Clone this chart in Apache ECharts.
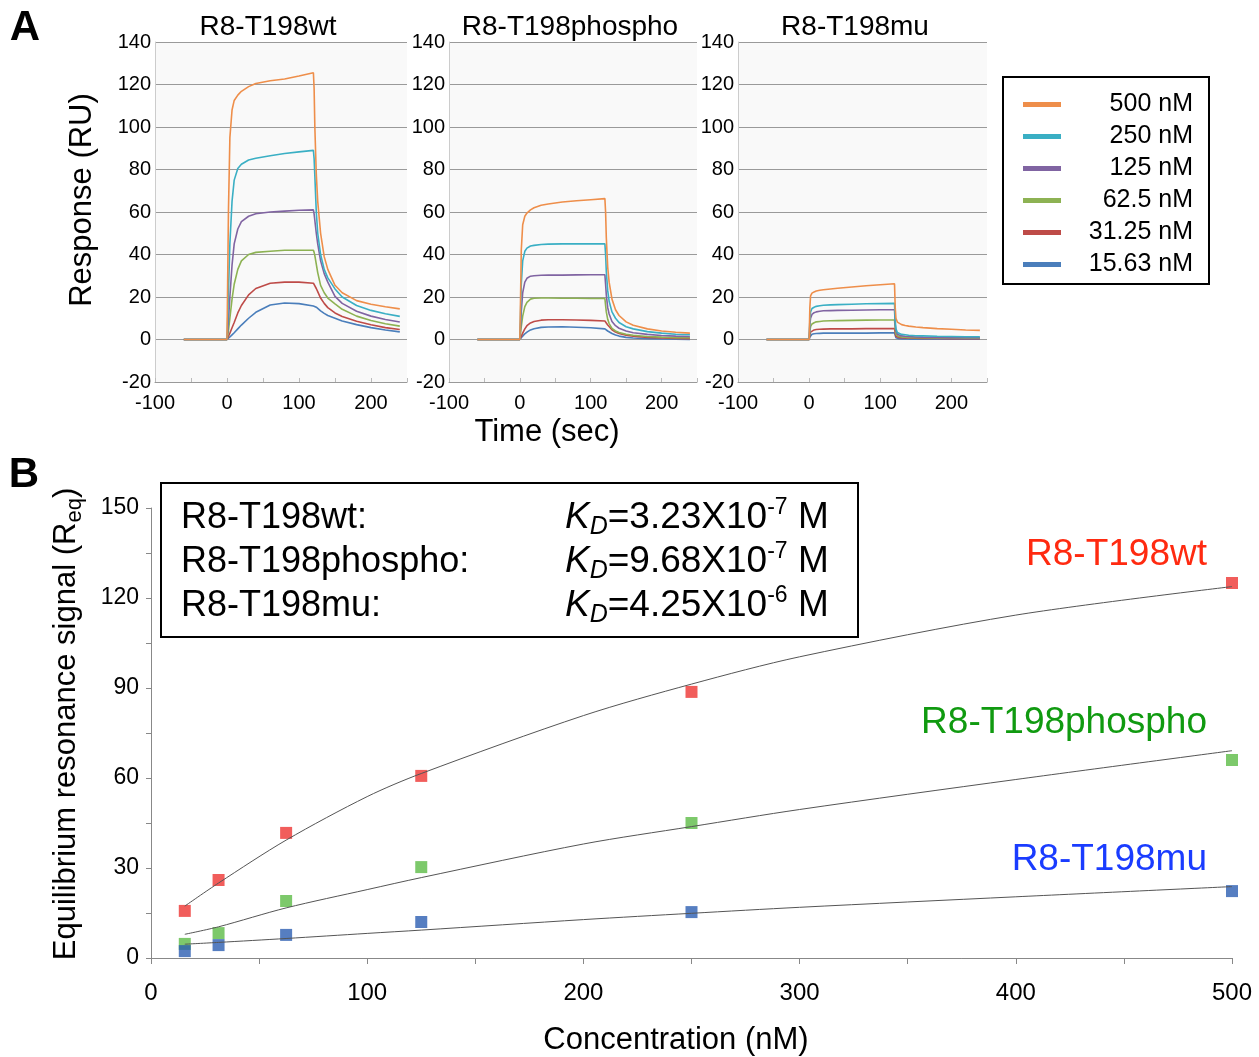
<!DOCTYPE html>
<html>
<head>
<meta charset="utf-8">
<script src="https://cdn.jsdelivr.net/npm/echarts@6/dist/echarts.min.js"></script>
<style>
	html, body { margin: 0; padding: 0; background: #fff; }
	#chart { width: 1259px; height: 1057px; }
</style>
</head>
<body>
<div id="chart"></div>
<script>
var FONT = "'Liberation Sans', Arial, Helvetica, sans-serif";

/* ---- A: sensorgrams (time in sec, response in RU) ---- */
var times = [-60, 0, 1, 2, 4, 7, 10, 15, 20, 30, 40, 60, 80, 100, 120, 121, 122, 124, 126, 130, 135, 140, 150, 160, 180, 200, 220, 240];
var concNames = ['500 nM', '250 nM', '125 nM', '62.5 nM', '31.25 nM', '15.63 nM'];
var curveColors = ['#EE8E4A', '#3AAFC4', '#8064A2', '#8DB253', '#BE4B48', '#4A7EBB'];
var panelTitles = ['R8-T198wt', 'R8-T198phospho', 'R8-T198mu'];

var wt500 = [0, 0, 30, 60, 95, 108, 112.5, 115, 116.8, 119, 120.5, 121.8, 122.6, 124, 125.5, 118, 100, 78, 65, 50, 39, 33, 25.5, 22, 18.3, 16.6, 15.4, 14.4];
var wt250 = [0, 0, 10, 22, 45, 65, 75, 80.5, 82.5, 84.5, 85.3, 86.5, 87.5, 88.3, 89, 85, 77, 60, 50, 40, 33, 29, 23.8, 20, 16, 13.7, 12.1, 10.9];
var wt125 = [0, 0, 4, 9, 20, 35, 45, 52, 55.5, 58, 59.2, 60, 60.4, 60.8, 61, 59, 56, 50, 45, 37, 31, 27, 20.3, 17, 13.3, 11, 9.4, 8.2];
var wt62 = [0, 0, 2, 4, 10, 19, 26, 33, 37, 40, 41, 41.5, 42, 42, 42, 41, 39.5, 35.5, 31.5, 25.5, 22, 19.5, 16.8, 14.2, 11, 8.9, 7.4, 6.3];
var wt31 = [0, 0, 0.7, 1.5, 3, 5.5, 8, 12.5, 16, 21, 24, 26.5, 27, 27, 26.5, 26.3, 26, 24, 22.5, 19.5, 17, 15, 12.5, 10.8, 8.6, 6.9, 5.6, 4.7];
var wt15 = [0, 0, 0.3, 0.6, 1.2, 2.2, 3.2, 5, 6.8, 10, 12.8, 16.2, 17.2, 16.9, 15.8, 15.7, 15.6, 15.2, 14.5, 13.5, 12.3, 11.3, 10, 8.7, 7, 5.6, 4.5, 3.6];

var ph500 = [0, 0, 20, 42, 54, 58, 59.5, 61, 62, 63.2, 63.8, 64.7, 65.3, 65.8, 66.3, 60, 48, 34, 27, 19, 14, 11.3, 8.3, 6.7, 5, 4, 3.4, 3];
var ph250 = [0, 0, 12, 26, 37, 41.5, 43, 44, 44.3, 44.7, 44.9, 45, 45, 45, 45, 40, 32, 23, 18, 13, 10, 8, 6, 5, 3.7, 3, 2.5, 2.2];
var ph125 = [0, 0, 6, 13, 22, 27, 28.8, 29.8, 30, 30.2, 30.3, 30.3, 30.4, 30.5, 30.5, 26, 21, 15, 12, 8.5, 6.5, 5.3, 4, 3.2, 2.4, 1.9, 1.6, 1.4];
var ph62 = [0, 0, 3, 6, 11, 15.5, 17.5, 19, 19.4, 19.5, 19.5, 19.4, 19.4, 19.3, 19.3, 16, 13, 9.5, 7.5, 5.2, 4, 3.3, 2.5, 2, 1.4, 1.1, 0.9, 0.8];
var ph31 = [0, 0, 0.8, 1.5, 3, 5, 6.5, 7.8, 8.5, 9.1, 9.3, 9.3, 9.2, 9, 8.7, 8.3, 7.8, 6.8, 6, 4.6, 3.5, 2.8, 2, 1.5, 1, 0.7, 0.5, 0.4];
var ph15 = [0, 0, 0.4, 0.8, 1.6, 2.7, 3.5, 4.5, 5.1, 5.7, 5.9, 6, 5.8, 5.5, 5, 4.8, 4.6, 4, 3.6, 2.8, 2.1, 1.6, 1, 0.7, 0.4, 0.2, 0.1, 0];

var mu500 = [0, 0, 15, 20.5, 21.8, 22.4, 22.8, 23.2, 23.4, 23.8, 24.1, 24.7, 25.3, 25.8, 26.2, 15, 10, 8.2, 7.6, 7, 6.6, 6.3, 5.9, 5.6, 5.1, 4.8, 4.5, 4.3];
var mu250 = [0, 0, 9, 13, 14.6, 15.2, 15.6, 15.9, 16.1, 16.3, 16.4, 16.6, 16.8, 16.9, 17, 9, 5, 3.3, 2.8, 2.4, 2.2, 2, 1.8, 1.7, 1.5, 1.4, 1.3, 1.3];
var mu125 = [0, 0, 7, 10, 11.8, 12.6, 13, 13.3, 13.5, 13.6, 13.7, 13.8, 13.9, 14, 14, 7, 4, 2.5, 2, 1.7, 1.5, 1.4, 1.2, 1.1, 1, 0.9, 0.8, 0.8];
var mu62 = [0, 0, 4, 6, 7.3, 7.9, 8.3, 8.5, 8.7, 8.8, 8.9, 9, 9.1, 9.2, 9.2, 5, 2.5, 1.7, 1.4, 1.2, 1.1, 1, 0.9, 0.8, 0.7, 0.7, 0.6, 0.6];
var mu31 = [0, 0, 2.2, 3.5, 4.2, 4.5, 4.7, 4.8, 4.9, 5, 5, 5, 5.1, 5.1, 5.2, 3, 1.5, 1, 0.9, 0.8, 0.7, 0.7, 0.6, 0.5, 0.5, 0.4, 0.4, 0.4];
var mu15 = [0, 0, 1.2, 2, 2.5, 2.7, 2.8, 2.9, 3, 3, 3, 3, 3, 3.1, 3.1, 2, 0.8, 0.5, 0.4, 0.3, 0.3, 0.2, 0.2, 0.2, 0.1, 0.1, 0.1, 0.1];

var panels = [
	[wt500, wt250, wt125, wt62, wt31, wt15],
	[ph500, ph250, ph125, ph62, ph31, ph15],
	[mu500, mu250, mu125, mu62, mu31, mu15]
];

/* ---- B: equilibrium signal vs concentration ---- */
var conc = [15.63, 31.25, 62.5, 125, 250, 500];
var wtReq = [15.7, 26, 41.7, 60.7, 88.7, 125];
var phReq = [4.7, 8.3, 19, 30.3, 45, 66];
var muReq = [2.3, 4.3, 7.7, 12, 15.3, 22.3];
var fitConc = [15.63, 31.25, 62.5, 100, 125, 200, 250, 300, 400, 500];
var wtFit = [17.3, 25, 39.3, 53.8, 61.5, 80.8, 91.3, 100.4, 114.3, 123.8];
var phFit = [7.9, 10.4, 16.7, 22.8, 26.8, 38, 43.8, 49.5, 59.5, 69.1];
var muFit = [4.6, 5.2, 6.5, 8.2, 9.3, 12.8, 14.9, 16.9, 20.4, 23.8];
var kdNames = ['R8-T198wt:', 'R8-T198phospho:', 'R8-T198mu:'];
var kdMant = ['3.23', '9.68', '4.25'];
var kdExp = ['-7', '-7', '-6'];
var bColors = ['#EE3432', '#5CBB46', '#2C5EB2'];
var labelColors = ['#FF2A10', '#109A10', '#1A3CFF'];

function zip(xs, ys) {
	return xs.map(function(x, i) { return [x, ys[i]]; });
}

function txt(x, y, text, size, extra) {
	var st = {
		text: text, fontSize: size, fontFamily: FONT, fill: '#000',
		textAlign: 'center', textVerticalAlign: 'middle', align: 'center', verticalAlign: 'middle'
	};
	for (var k in extra) st[k] = extra[k];
	return { type: 'text', x: x, y: y, style: st, silent: true };
}

var chart = echarts.init(document.getElementById('chart'), null, { renderer: 'canvas' });

// grid positions of the three sensorgram plots and plot B
var gridsA = [
	{ left: 155, top: 42, width: 252, height: 340 },
	{ left: 449, top: 42, width: 248, height: 340 },
	{ left: 738, top: 42, width: 249, height: 340 }
];
var grids = [];
var xAxes = [];
var yAxes = [];
var series = [];

gridsA.forEach(function(g, p) {
	grids.push({ left: g.left, top: g.top, width: g.width, height: g.height, show: true, backgroundColor: '#f9f9f9', borderWidth: 0 });
	xAxes.push({
		gridIndex: p, type: 'value', min: -100, max: 250, interval: 50,
		axisLine: { show: true, onZero: false, lineStyle: { color: '#999', width: 1 } },
		axisTick: { show: true, inside: true, length: 4, lineStyle: { color: '#bbb' } },
		splitLine: { show: false },
		axisLabel: {
			margin: 11, fontSize: 20, fontFamily: FONT, color: '#000',
			formatter: function(v) { return v % 100 === 0 ? String(v) : ''; }
		}
	});
	yAxes.push({
		gridIndex: p, type: 'value', min: -20, max: 140, interval: 20,
		axisLine: { show: true, onZero: false, lineStyle: { color: '#ccc', width: 1 } },
		axisTick: { show: false },
		splitLine: { show: true, lineStyle: { color: '#9a9a9a', width: 1 } },
		axisLabel: { margin: 4, fontSize: 20, fontFamily: FONT, color: '#000' }
	});
	for (var k = 5; k >= 0; k--) {
		series.push({
			type: 'line', name: concNames[k], xAxisIndex: p, yAxisIndex: p,
			data: zip(times, panels[p][k]),
			showSymbol: false, symbol: 'none', color: curveColors[k],
			lineStyle: { width: 1.6, color: curveColors[k] }, silent: true
		});
	}
});

// plot B
grids.push({ left: 151, top: 508, width: 1081, height: 450, show: false });
xAxes.push({
	gridIndex: 3, type: 'value', min: 0, max: 500, interval: 100,
	axisLine: { show: true, onZero: false, lineStyle: { color: '#888', width: 1 } },
	axisTick: { show: true, length: 6, lineStyle: { color: '#888' } },
	minorTick: { show: true, splitNumber: 2, length: 6, lineStyle: { color: '#888' } },
	splitLine: { show: false },
	axisLabel: { margin: 23, fontSize: 24, fontFamily: FONT, color: '#000' }
});
yAxes.push({
	gridIndex: 3, type: 'value', min: 0, max: 150, interval: 30,
	axisLine: { show: true, onZero: false, lineStyle: { color: '#888', width: 1 } },
	axisTick: { show: true, length: 5, lineStyle: { color: '#888' } },
	minorTick: { show: true, splitNumber: 2, length: 5, lineStyle: { color: '#888' } },
	splitLine: { show: false },
	axisLabel: { margin: 12, fontSize: 23, fontFamily: FONT, color: '#000' }
});

[wtFit, phFit, muFit].forEach(function(f) {
	series.push({
		type: 'line', xAxisIndex: 3, yAxisIndex: 3, data: zip(fitConc, f),
		showSymbol: false, symbol: 'none', color: '#555', smooth: 0.3,
		lineStyle: { width: 1, color: '#555' }, silent: true
	});
});
[wtReq, phReq, muReq].forEach(function(r, i) {
	series.push({
		type: 'scatter', xAxisIndex: 3, yAxisIndex: 3, data: zip(conc, r),
		symbol: 'rect', symbolSize: 12, itemStyle: { color: bColors[i] }, silent: true, clip: false
	});
});

// texts
var graphics = [
	txt(25, 28, 'A', 42, { fontWeight: 'bold' }),
	txt(24, 475, 'B', 42, { fontWeight: 'bold' }),
	txt(268, 27, panelTitles[0], 28),
	txt(570, 27, panelTitles[1], 28),
	txt(855, 27, panelTitles[2], 28),
	{ type: 'text', x: 82, y: 200, rotation: Math.PI / 2, silent: true,
		style: { text: 'Response (RU)', fontSize: 31, fontFamily: FONT, fill: '#000',
			textAlign: 'center', textVerticalAlign: 'middle', align: 'center', verticalAlign: 'middle' } },
	txt(547, 432, 'Time (sec)', 31),
	txt(676, 1040, 'Concentration (nM)', 31),
	{ type: 'text', x: 66, y: 724, rotation: Math.PI / 2, silent: true,
		style: {
			text: '{n|Equilibrium resonance signal (R}{e|eq}{n|)}',
			fontSize: 31, fontFamily: FONT, fill: '#000',
			textAlign: 'center', textVerticalAlign: 'middle', align: 'center', verticalAlign: 'middle',
			rich: {
				n: { fontSize: 31, fontFamily: FONT, fill: '#000', color: '#000', lineHeight: 40 },
				e: { fontSize: 22, fontFamily: FONT, fill: '#000', color: '#000', verticalAlign: 'bottom', lineHeight: 24 }
			}
		} },
	{ type: 'rect', shape: { x: 161, y: 483, width: 697, height: 154 }, style: { fill: '#fff', stroke: '#000', lineWidth: 2 }, silent: true }
];

var rowY = [518, 562, 606];
kdNames.forEach(function(n, i) {
	graphics.push(txt(181, rowY[i], n, 36, { textAlign: 'left', align: 'left' }));
	graphics.push({
		type: 'text', x: 565, y: rowY[i], silent: true,
		style: {
			text: '{k|K}{d|D}{n|=' + kdMant[i] + 'X10}{s|' + kdExp[i] + '}{n| M}',
			fontSize: 37, fontFamily: FONT, fill: '#000',
			textAlign: 'left', textVerticalAlign: 'middle', align: 'left', verticalAlign: 'middle',
			rich: {
				k: { fontSize: 37, fontStyle: 'italic', fontFamily: FONT, fill: '#000', color: '#000', lineHeight: 44 },
				d: { fontSize: 25, fontStyle: 'italic', fontFamily: FONT, fill: '#000', color: '#000', verticalAlign: 'bottom', lineHeight: 26 },
				n: { fontSize: 37, fontFamily: FONT, fill: '#000', color: '#000', lineHeight: 44 },
				s: { fontSize: 23, fontFamily: FONT, fill: '#000', color: '#000', verticalAlign: 'top', lineHeight: 24 }
			}
		}
	});
});

var labelY = [555, 723, 860];
panelTitles.forEach(function(n, i) {
	graphics.push(txt(1207, labelY[i], n, 37, { textAlign: 'right', align: 'right', fill: labelColors[i] }));
});

var option = {
	animation: false,
	backgroundColor: '#fff',
	grid: grids,
	xAxis: xAxes,
	yAxis: yAxes,
	legend: {
		data: concNames, orient: 'vertical', left: 1003, top: 77,
		borderColor: '#000', borderWidth: 2, padding: [15, 16, 7, 20],
		itemGap: 7, itemWidth: 38, itemHeight: 5, icon: 'rect',
		selectedMode: false,
		formatter: function(name) { return '{a|' + name + '}'; },
		textStyle: {
			color: '#000', fontSize: 25, fontFamily: FONT,
			rich: { a: { width: 127, align: 'right', fontSize: 25, fontFamily: FONT, color: '#000', lineHeight: 22 } }
		}
	},
	series: series,
	graphic: graphics
};

chart.setOption(option);
</script>
</body>
</html>
